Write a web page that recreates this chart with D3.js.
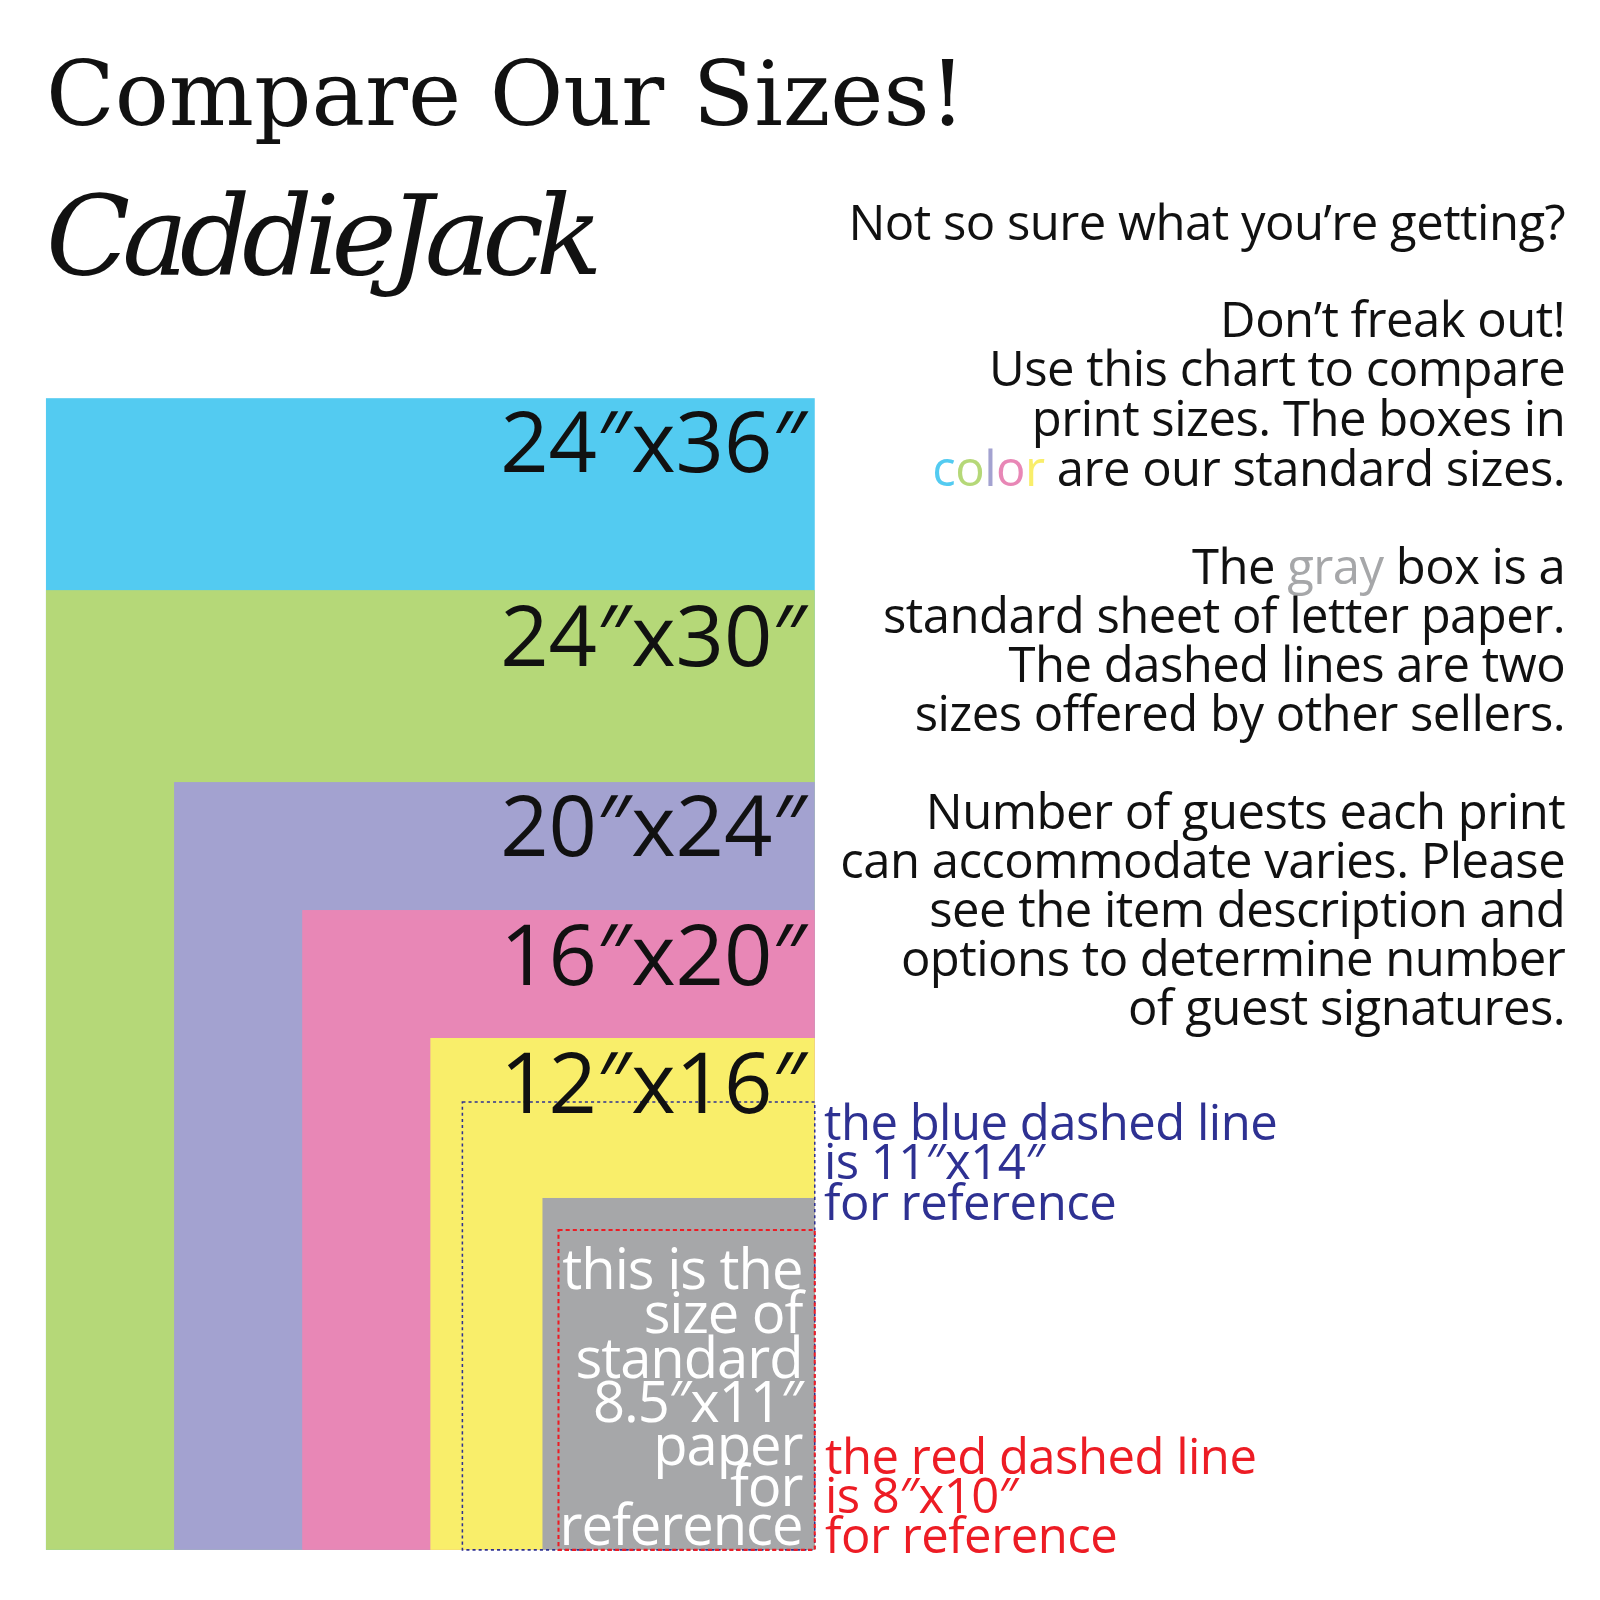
<!DOCTYPE html>
<html><head><meta charset="utf-8">
<script src="https://cdn.jsdelivr.net/npm/d3@7"></script>
<style>body{margin:0;background:#fff}</style></head>
<body><svg id="c" width="1600" height="1600"></svg>
<script>
const labels = ["24″x36″","24″x30″","20″x24″","16″x20″","12″x16″","8.5″x11″"];
const widthsIn = [24,24,20,16,12,8.5];
const heightsIn = [36,30,24,20,16,11];
const colors = ["#53cbf1","#b5d878","#a3a2d0","#e887b6","#f9ee6a","#a6a7a9"];
const dashedLabels = ["11″x14″","8″x10″"];
const dashedW = [11,8];
const dashedH = [14,10];
const dashedColors = ["#2e3192","#ed1c24"];

const svg = d3.select("#c").append("g").attr("transform","scale(1.021)");
const right = 798, bottom = 1518;
const sx = d3.scaleLinear().domain([0,24]).range([0,753]);
const sy = d3.scaleLinear().domain([0,36]).range([0,1128]);
const font = "'Open Sans', 'Noto Sans', sans-serif";

svg.selectAll("rect.box").data(widthsIn).enter().append("rect")
  .attr("x",(d)=>right-sx(d)).attr("y",(d,i)=>bottom-sy(heightsIn[i]))
  .attr("width",d=>sx(d)).attr("height",(d,i)=>sy(heightsIn[i]))
  .attr("fill",(d,i)=>colors[i]);

svg.selectAll("rect.dash").data(dashedW).enter().append("rect")
  .attr("x",d=>right-sx(d)).attr("y",(d,i)=>bottom-sy(dashedH[i]))
  .attr("width",d=>sx(d)).attr("height",(d,i)=>sy(dashedH[i]))
  .attr("fill","none").attr("stroke",(d,i)=>dashedColors[i])
  .attr("stroke-width",(d,i)=>i?2:1.5).attr("stroke-dasharray",(d,i)=>i?"4,3":"3,3");

const labelBase = [462,652,838,965,1090];
labels.slice(0,5).forEach((t,i)=>{
  svg.append("text").attr("x",790).attr("y",labelBase[i]).attr("text-anchor","end")
    .attr("font-family",font).attr("font-size",83).attr("fill","#111").text(t);
});

const grayLines = ["this is the","size of","standard",labels[5],"paper","for","reference"];
const grayBase = [1262,1306,1350,1393,1435,1475,1513];
grayLines.forEach((t,i)=>svg.append("text").attr("x",786).attr("y",grayBase[i])
  .attr("text-anchor","end").attr("font-family",font).attr("font-size",55)
  .attr("letter-spacing",-1).attr("fill","#fff").text(t));

const blueLines = ["the blue dashed line","is "+dashedLabels[0],"for reference"];
[1117,1155,1195].forEach((y,i)=>svg.append("text").attr("x",807).attr("y",y)
  .attr("font-family",font).attr("font-size",48).attr("letter-spacing",-0.5).attr("fill",dashedColors[0]).text(blueLines[i]));
const redLines = ["the red dashed line","is "+dashedLabels[1],"for reference"];
[1444,1482,1521].forEach((y,i)=>svg.append("text").attr("x",808).attr("y",y)
  .attr("font-family",font).attr("font-size",48).attr("letter-spacing",-0.5).attr("fill",dashedColors[1]).text(redLines[i]));

svg.append("text").attr("x",45).attr("y",122).attr("font-family","'DejaVu Serif', serif")
  .attr("font-size",88).attr("fill","#111").text("Compare Our Sizes!");
svg.append("text").attr("x",45).attr("y",268).attr("font-family","'DejaVu Serif', serif")
  .attr("font-style","italic").attr("font-size",108).attr("letter-spacing",-8).attr("fill","#111").text("CaddieJack");

const T = (y,t)=>svg.append("text").attr("x",1533).attr("y",y).attr("text-anchor","end")
  .attr("font-family",font).attr("font-size",48).attr("letter-spacing",-0.5).attr("fill","#111").text(t);
T(235,"Not so sure what you’re getting?");
T(330,"Don’t freak out!");
T(378,"Use this chart to compare");
T(427,"print sizes. The boxes in");
const c = T(476,"");
["c","o","l","o","r"].forEach((ch,i)=>c.append("tspan").attr("fill",colors[i]).text(ch));
c.append("tspan").text(" are our standard sizes.");
const g = T(572,"The ");
g.append("tspan").attr("fill","#a6a7a9").text("gray");
g.append("tspan").text(" box is a");
T(620,"standard sheet of letter paper.");
T(668,"The dashed lines are two");
T(716,"sizes offered by other sellers.");
T(812,"Number of guests each print");
T(860,"can accommodate varies. Please");
T(908,"see the item description and");
T(956,"options to determine number");
T(1004,"of guest signatures.");
</script></body></html>
